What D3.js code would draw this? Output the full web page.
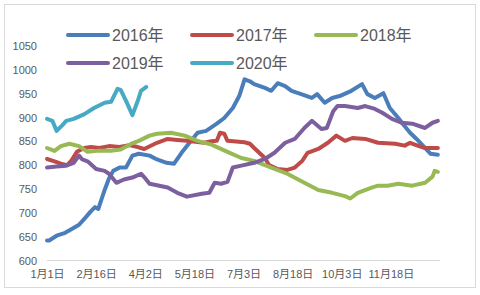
<!DOCTYPE html>
<html>
<head>
<meta charset="utf-8">
<script src="https://cdn.jsdelivr.net/npm/d3@7"></script>
<style>
    body { margin: 0; background: #fff; }
    #chart { width: 480px; height: 295px; }
    text { font-family: "Liberation Sans", "Noto Sans CJK SC", sans-serif; fill: #595959; }
</style>
</head>
<body>
<div id="chart"></div>
<script>
"use strict";

// day of year, price
const days2016 = [0, 2, 9, 17, 24, 30, 36, 41, 45, 48, 51, 54, 58, 62, 68, 74, 80, 86, 96, 103, 112, 119, 126, 131, 141, 149, 159, 166, 174, 180, 185, 190, 194, 204, 210, 216, 223, 229, 238, 248, 253, 260, 267, 274, 285, 295, 300, 307, 315, 321, 329, 333, 340, 346, 352, 359, 366];
const price2016 = [642, 642, 652, 658, 667, 675, 690, 703, 712, 708, 728, 748, 772, 788, 795, 795, 820, 824, 820, 812, 805, 803, 826, 840, 868, 872, 887, 899, 920, 945, 980, 976, 970, 962, 956, 972, 966, 956, 949, 941, 949, 931, 941, 945, 956, 970, 949, 941, 951, 920, 899, 887, 868, 855, 841, 824, 822];

const days2017 = [0, 7, 13, 19, 23, 28, 35, 41, 49, 58, 68, 77, 85, 91, 103, 113, 122, 131, 147, 154, 159, 162, 166, 169, 185, 190, 194, 204, 208, 216, 225, 232, 239, 244, 254, 263, 271, 279, 286, 298, 310, 326, 335, 340, 347, 354, 366];
const price2017 = [813, 808, 803, 800, 810, 828, 836, 838, 836, 840, 838, 842, 838, 834, 847, 855, 853, 851, 847, 850, 851, 868, 866, 851, 848, 845, 836, 815, 800, 792, 790, 795, 809, 826, 834, 847, 862, 851, 857, 855, 847, 845, 841, 847, 841, 836, 836];

const days2018 = [0, 7, 13, 21, 30, 38, 47, 60, 69, 79, 86, 96, 103, 116, 129, 141, 154, 169, 182, 194, 204, 210, 225, 241, 254, 267, 279, 284, 291, 304, 310, 319, 329, 342, 354, 361, 363, 366];
const price2018 = [836, 830, 840, 845, 840, 828, 830, 830, 833, 845, 851, 862, 866, 868, 862, 851, 843, 828, 815, 809, 800, 795, 782, 763, 748, 742, 735, 730, 742, 753, 757, 757, 761, 757, 763, 776, 788, 786];

const days2019 = [0, 9, 18, 25, 30, 33, 38, 46, 54, 58, 65, 72, 80, 88, 91, 96, 103, 113, 122, 131, 145, 152, 157, 163, 169, 174, 182, 194, 204, 213, 223, 232, 241, 248, 257, 262, 268, 272, 279, 291, 298, 307, 314, 323, 332, 342, 354, 361, 366];
const price2019 = [795, 797, 799, 805, 820, 812, 808, 792, 788, 782, 763, 770, 774, 782, 775, 761, 758, 753, 742, 734, 740, 742, 763, 761, 765, 795, 799, 805, 813, 826, 847, 855, 878, 893, 876, 878, 913, 924, 924, 920, 924, 918, 910, 897, 889, 887, 878, 889, 893];

const days2020 = [0, 5, 9, 14, 18, 25, 35, 44, 54, 60, 66, 69, 74, 80, 85, 88, 93];
const price2020 = [897, 893, 872, 883, 893, 897, 907, 920, 931, 933, 960, 958, 935, 905, 935, 956, 964];

const seriesNames = ["2016年", "2017年", "2018年", "2019年", "2020年"];
const seriesColors = ["#4a7ebb", "#be4b48", "#98b954", "#7d5fa0", "#46aac5"];

const tickDays = [0, 46, 92, 138, 184, 230, 276, 322];
const tickLabels = ["1月1日", "2月16日", "4月2日", "5月18日", "7月3日", "8月18日", "10月3日", "11月18日"];
const yTicks = [600, 650, 700, 750, 800, 850, 900, 950, 1000, 1050];

(function () {
    const width = 480;
    const height = 295;

    const series = [
        [days2016, price2016],
        [days2017, price2017],
        [days2018, price2018],
        [days2019, price2019],
        [days2020, price2020]
    ].map(function (s, i) {
        return {
            name: seriesNames[i],
            color: seriesColors[i],
            points: s[0].map((d, j) => [d, s[1][j]])
        };
    });

    let svg = d3.select("#chart")
        .append("svg")
        .attr("width", width)
        .attr("height", height);

    // chart frame
    svg.append("rect")
        .attr("x", 4.5)
        .attr("y", 4.5)
        .attr("width", 471)
        .attr("height", 283)
        .attr("fill", "#fff")
        .attr("stroke", "#d9d9d9");

    const x = d3.scaleLinear().domain([0, 368]).range([47, 440]);
    const y = d3.scaleLinear().domain([600, 1050]).range([260.5, 46]);

    // y axis labels only, no line
    const yAxis = svg.append("g")
        .attr("transform", "translate(37,0)")
        .call(d3.axisLeft(y).tickValues(yTicks).tickFormat(d3.format("d")).tickSize(0).tickPadding(0));
    yAxis.select(".domain").remove();
    yAxis.selectAll("text").attr("font-size", 11).style("font-family", null);

    // x axis baseline + labels
    svg.append("line")
        .attr("x1", 47)
        .attr("x2", 440)
        .attr("y1", y(600))
        .attr("y2", y(600))
        .attr("stroke", "#d9d9d9");

    const xAxis = svg.append("g")
        .attr("transform", `translate(0,${y(600)})`)
        .call(d3.axisBottom(x).tickValues(tickDays).tickFormat((d, i) => tickLabels[i]).tickSize(0).tickPadding(10));
    xAxis.select(".domain").remove();
    xAxis.selectAll("text").attr("font-size", 11).style("font-family", null);

    const line = d3.line()
        .x(d => x(d[0]))
        .y(d => y(d[1]));

    svg.append("g")
        .selectAll("path")
        .data(series)
        .enter()
        .append("path")
        .attr("d", d => line(d.points))
        .attr("fill", "none")
        .attr("stroke", d => d.color)
        .attr("stroke-width", 4)
        .attr("stroke-linejoin", "round")
        .attr("stroke-linecap", "round");

    // legend, 3 per row
    const legend = svg.append("g")
        .selectAll("g")
        .data(series)
        .enter()
        .append("g")
        .attr("transform", (d, i) => `translate(${68 + (i % 3) * 124},${35 + Math.floor(i / 3) * 28})`);

    legend.append("line")
        .attr("x1", 0)
        .attr("x2", 40)
        .attr("stroke", d => d.color)
        .attr("stroke-width", 4)
        .attr("stroke-linecap", "round");

    legend.append("text")
        .attr("x", 44)
        .attr("dy", "0.35em")
        .attr("font-size", 16)
        .text(d => d.name);
})();
</script>
</body>
</html>
